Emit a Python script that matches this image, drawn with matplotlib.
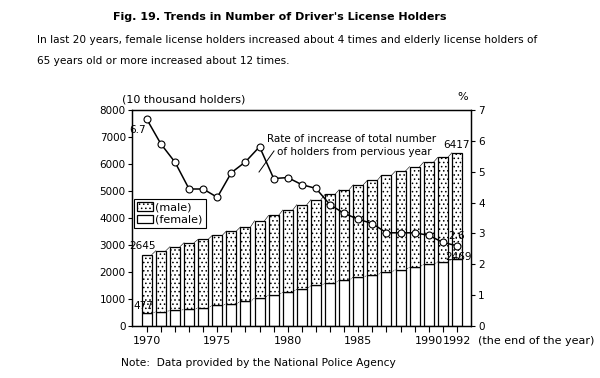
import matplotlib
matplotlib.use("Agg")
import matplotlib.pyplot as plt
import numpy as np

plt.rcParams['font.family'] = ['DejaVu Sans']
plt.rcParams['hatch.linewidth'] = 0.6

years = list(range(1970, 1993))
total = [2645, 2790, 2938, 3086, 3210, 3358, 3518, 3667, 3900, 4099, 4296, 4494,
         4679, 4876, 5049, 5228, 5395, 5580, 5741, 5901, 6074, 6247, 6417]
female = [477, 526, 576, 613, 675, 761, 823, 909, 1033, 1156, 1255, 1366,
          1502, 1588, 1687, 1811, 1873, 1996, 2082, 2181, 2280, 2379, 2469]
rate = [6.7, 5.90, 5.31, 4.44, 4.44, 4.17, 4.97, 5.32, 5.81, 4.78, 4.81, 4.58,
        4.46, 3.93, 3.65, 3.46, 3.32, 3.02, 3.02, 3.02, 2.94, 2.71, 2.6]
year_ticks = [1970, 1975, 1980, 1985, 1990, 1992]

fig = plt.figure(figsize=(6, 3.78), dpi=100)
ax = fig.add_axes([132/600, 1-326/378, (471-132)/600, (326-110)/378])

x = np.array(years, dtype=float)
tot = np.array(total, dtype=float)
fem = np.array(female, dtype=float)
male = tot - fem
w = 0.71

ax.bar(x, fem, width=w, color='white', edgecolor='black', linewidth=0.9, label='(female)', zorder=2)
ax.bar(x, male, width=w, bottom=fem, color='white', edgecolor='black', linewidth=0.9,
       hatch='....', label='(male)', zorder=2)

# thin connectors between bar tops
for i in range(len(x) - 1):
    ax.plot([x[i] + w/2, x[i+1] - w/2], [tot[i], tot[i+1]], color='black', lw=0.4, zorder=1)
    ax.plot([x[i] + w/2, x[i+1] - w/2], [fem[i], fem[i+1]], color='black', lw=0.4,
            ls=(0, (2, 1.5)), zorder=1)

ax.set_xlim(1968.95, 1993.0)
ax.set_ylim(0, 8000)
ax.set_yticks(range(0, 8001, 1000))
ax.set_xticks(years, minor=False)
ax.set_xticklabels([str(y) if y in year_ticks else '' for y in years], fontsize=8)
ax.tick_params(axis='y', labelsize=7.5, length=3, width=0.8, direction='out', pad=1.5)
ax.tick_params(axis='x', length=4, width=0.8, direction='out', pad=3)
for s in ['left', 'right', 'top', 'bottom']:
    ax.spines[s].set_linewidth(0.9)

ax2 = ax.twinx()
ax2.set_ylim(0, 7)
ax2.set_yticks(range(0, 8))
ax2.tick_params(axis='y', labelsize=7.5, length=3, width=0.8, direction='out', pad=2)
ax2.plot(x, rate, color='black', lw=1.1, marker='o', markersize=5,
         markerfacecolor='white', markeredgecolor='black', markeredgewidth=0.8, zorder=5)
for s in ['left', 'right', 'top', 'bottom']:
    ax2.spines[s].set_linewidth(0.9)

leg = ax.legend(handles=[ax.containers[1], ax.containers[0]], labels=['(male)', '(female)'],
                loc='upper left', bbox_to_anchor=(0.006, 0.588), fontsize=8,
                frameon=True, fancybox=False, edgecolor='black', framealpha=1,
                handlelength=1.4, handleheight=0.8, handletextpad=0.2,
                borderpad=0.3, labelspacing=0.2, borderaxespad=0)
leg.get_frame().set_linewidth(0.8)
leg.set_zorder(10)

# annotations
fs = 7.5
fig.text(138/600, 1-130/378, '6.7', fontsize=fs, ha='center', va='center')
fig.text(143/600, 1-246/378, '2645', fontsize=fs, ha='center', va='center')
fig.text(143/600, 1-306/378, '477', fontsize=fs, ha='center', va='center')
fig.text(457/600, 1-145/378, '6417', fontsize=fs, ha='center', va='center')
fig.text(457/600, 1-236/378, '2.6', fontsize=fs, ha='center', va='center')
fig.text(459/600, 1-257/378, '2469', fontsize=fs, ha='center', va='center')
fig.text(267/600, 1-139/378, 'Rate of increase of total number', fontsize=7.5, ha='left', va='center')
fig.text(277/600, 1-152/378, 'of holders from pervious year', fontsize=7.5, ha='left', va='center')
fig.add_artist(plt.Line2D([274/600, 259/600], [1-151/378, 1-172/378], color='black', lw=0.7))

fig.text(122/600, 1-99/378, '(10 thousand holders)', fontsize=8, ha='left', va='center')
fig.text(463/600, 1-97/378, '%', fontsize=8, ha='center', va='center')
fig.text(478/600, 1-341/378, '(the end of the year)', fontsize=8, ha='left', va='center')

fig.text(280/600, 1-17/378, "Fig. 19. Trends in Number of Driver's License Holders",
         fontsize=8, fontweight='bold', ha='center', va='center')
fig.text(37/600, 1-40/378,
         'In last 20 years, female license holders increased about 4 times and elderly license holders of',
         fontsize=7.55, ha='left', va='center')
fig.text(37/600, 1-61/378, '65 years old or more increased about 12 times.',
         fontsize=7.55, ha='left', va='center')
fig.text(121/600, 1-363/378, 'Note:  Data provided by the National Police Agency',
         fontsize=7.7, ha='left', va='center')

fig.savefig('out.png', dpi=100)
